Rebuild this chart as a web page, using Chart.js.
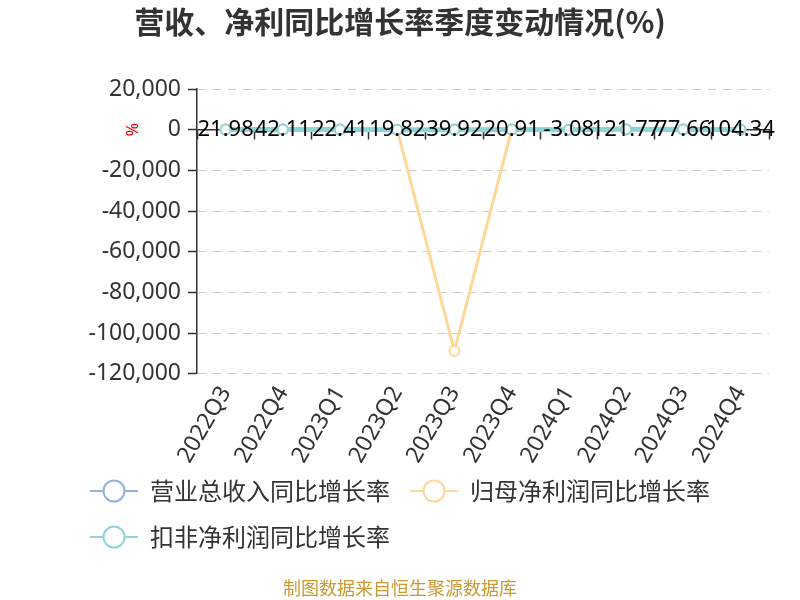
<!DOCTYPE html>
<html>
<head>
<meta charset="utf-8">
<script src="https://cdn.jsdelivr.net/npm/chart.js@4.4.1/dist/chart.umd.min.js"></script>
<style>
html,body{margin:0;padding:0;background:#fff;}
#wrap{width:800px;height:600px;}
</style>
</head>
<body>
<div id="wrap"><canvas id="c" width="800" height="600"></canvas></div>
<script>
// ---- data ----
const categories = ['2022Q3','2022Q4','2023Q1','2023Q2','2023Q3','2023Q4','2024Q1','2024Q2','2024Q3','2024Q4'];
const revenueGrowth = [21.98, 42.11, 22.41, 19.82, 39.92, 20.91, -3.08, 121.77, 77.66, 104.34];
const netProfitGrowth = [45.6, 80.3, 35.2, 12.5, -108900, 60.1, 5.4, 180.2, 95.3, 130.7];
const deductedProfitGrowth = [40.2, 75.1, 30.5, 10.8, -20.3, 55.6, 3.2, 170.5, 90.1, 125.4];
const seriesNames = ['营业总收入同比增长率', '归母净利润同比增长率', '扣非净利润同比增长率'];
const titleText = '营收、净利同比增长率季度变动情况(%)';
const sourceText = '制图数据来自恒生聚源数据库';
const yMin = -120000, yMax = 20000, yStep = 20000;

const colors = ['#93b0df', '#fdd899', '#8dd5d9'];
const FONT = '"Noto Sans", "Noto Sans CJK SC", sans-serif';
const CJK = '"Noto Sans CJK SC", "Noto Sans", sans-serif';

const valueLabels = {
  id: 'valueLabels',
  afterDatasetsDraw(chart) {
    const meta = chart.getDatasetMeta(0);
    const ctx = chart.ctx;
    ctx.save();
    ctx.font = '22px ' + FONT;
    ctx.fillStyle = '#000';
    ctx.textAlign = 'center';
    ctx.textBaseline = 'middle';
    meta.data.forEach((pt, i) => {
      ctx.fillText(String(revenueGrowth[i]), pt.x, pt.y);
    });
    ctx.restore();
  }
};

const legendShift = {
  id: 'legendShift',
  afterLayout(chart) {
    const lg = chart.legend;
    if (!lg) return;
    lg.top -= 10;
    lg.bottom -= 10;
  }
};

const legendIcons = {
  id: 'legendIcons',
  afterDraw(chart) {
    const lg = chart.legend;
    if (!lg || !lg.legendHitBoxes) return;
    const ctx = chart.ctx;
    ctx.save();
    lg.legendHitBoxes.forEach((hb, i) => {
      const cy = hb.top + hb.height / 2;
      const x0 = hb.left;
      const w = 48;
      ctx.strokeStyle = colors[i];
      ctx.lineWidth = 2;
      ctx.beginPath();
      ctx.moveTo(x0, cy);
      ctx.lineTo(x0 + w, cy);
      ctx.stroke();
      ctx.beginPath();
      ctx.arc(x0 + w / 2, cy, 10.5, 0, Math.PI * 2);
      ctx.fillStyle = '#fff';
      ctx.fill();
      ctx.stroke();
    });
    ctx.restore();
  }
};

const texts = {
  id: 'texts',
  afterDraw(chart) {
    const ctx = chart.ctx;
    const y = chart.scales.y;
    ctx.save();
    // title
    ctx.font = 'bold 30px ' + CJK;
    ctx.fillStyle = '#333';
    ctx.textAlign = 'center';
    ctx.textBaseline = 'middle';
    ctx.fillText(titleText, chart.width / 2, 22);
    // source
    ctx.font = '18px ' + CJK;
    ctx.fillStyle = '#c99a33';
    ctx.fillText(sourceText, chart.width / 2, 588);
    // unit
    ctx.translate(133, y.getPixelForValue(0));
    ctx.rotate(-Math.PI / 2);
    ctx.font = '16px ' + FONT;
    ctx.fillStyle = '#e60000';
    ctx.fillText('%', 0, 0);
    ctx.restore();
  }
};

const ds = (i, data, width, order) => ({
  label: seriesNames[i],
  data: data,
  borderColor: colors[i],
  backgroundColor: '#fff',
  borderWidth: width,
  pointRadius: 5,
  pointBorderWidth: 2,
  pointBackgroundColor: '#fff',
  pointBorderColor: colors[i],
  tension: 0,
  order: order,
  xAxisID: 'x'
});

new Chart(document.getElementById('c'), {
  type: 'line',
  data: {
    labels: categories,
    datasets: [
      ds(0, revenueGrowth, 3, 2),
      ds(1, netProfitGrowth, 3, 1),
      ds(2, deductedProfitGrowth, 5, 0)
    ]
  },
  options: {
    responsive: false,
    animation: false,
    devicePixelRatio: 1,
    locale: 'en-US',
    layout: { padding: { left: 70, right: 31, top: 89, bottom: 30 } },
    plugins: {
      title: { display: false },
      legend: {
        position: 'bottom',
        align: 'start',
        labels: {
          boxWidth: 48,
          boxHeight: 26,
          padding: 20,
          color: '#333',
          font: { family: CJK, size: 24 },
          generateLabels(chart) {
            return chart.data.datasets.map((d, i) => ({
              text: d.label,
              fillStyle: 'rgba(0,0,0,0)',
              strokeStyle: 'rgba(0,0,0,0)',
              lineWidth: 0,
              fontColor: '#333',
              datasetIndex: i,
              hidden: false
            }));
          }
        }
      },
      tooltip: { enabled: false }
    },
    scales: {
      x: {
        type: 'category',
        position: 'bottom',
        offset: true,
        grid: { display: false },
        border: { display: false },
        ticks: {
          color: '#333',
          font: { family: FONT, size: 23 },
          minRotation: 60,
          maxRotation: 60,
          padding: 0,
          autoSkip: false
        }
      },
      x2: {
        type: 'category',
        labels: categories,
        position: { y: 0 },
        offset: true,
        grid: {
          display: true,
          drawOnChartArea: false,
          drawTicks: true,
          tickLength: 9,
          tickColor: '#333',
          tickWidth: 1.5,
          offset: true
        },
        border: { display: true, color: '#333', width: 1.5 },
        ticks: { display: false }
      },
      y: {
        min: yMin,
        max: yMax,
        afterFit(scale) { scale.width = 127; },
        ticks: {
          stepSize: yStep,
          color: '#333',
          font: { family: FONT, size: 23 },
          padding: 7
        },
        grid: {
          color: '#cccccc',
          lineWidth: 1,
          tickLength: 9,
          tickColor: '#333',
          tickWidth: 1.5
        },
        border: { display: true, color: '#333', width: 1.5, dash: [9, 6] }
      }
    }
  },
  plugins: [valueLabels, legendShift, legendIcons, texts]
});
</script>
</body>
</html>
